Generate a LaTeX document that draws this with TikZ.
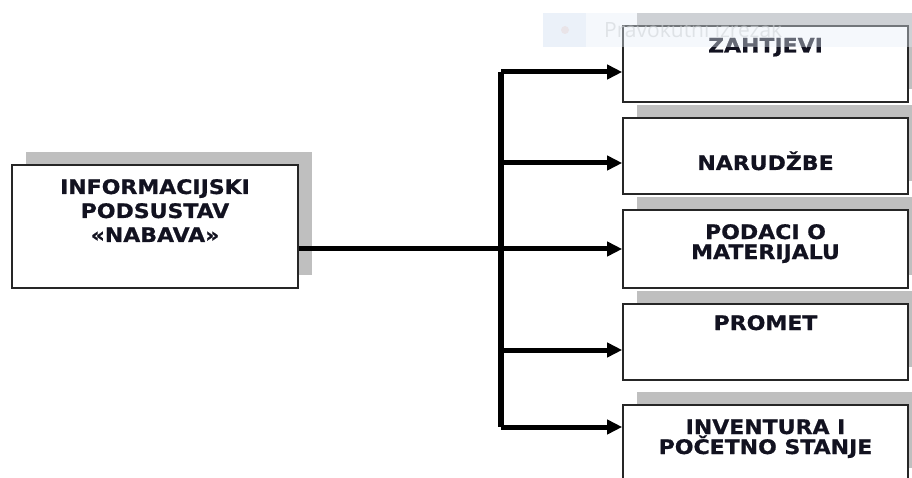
\documentclass[tikz,border=0pt]{standalone}
\usepackage{fontspec}
\usetikzlibrary{arrows.meta}
\newfontfamily\boxfont{DejaVu Sans}[FakeStretch=1.1,FakeBold=0.8]
\newfontfamily\tipfont{Open Sans}
\definecolor{shadowgray}{HTML}{BFBFBF}
\definecolor{inkc}{HTML}{121220}
\definecolor{tipbg}{HTML}{E6EEF8}
\definecolor{tipsq}{HTML}{DCE7F4}
\definecolor{tiptxt}{HTML}{D0D4D8}
\definecolor{tipdot}{HTML}{E8D0D0}
\tikzset{
  boxnode/.style={draw=black!85, line width=1.6pt, fill=white, minimum width=285pt, inner sep=0pt},
  shadownode/.style={fill=shadowgray, draw=none, minimum width=285pt, inner sep=0pt},
  lbl/.style={font=\boxfont\bfseries\fontsize{20}{20}\selectfont, text=inkc, align=center, inner sep=0pt},
  feed/.style={line width=5pt, -{Triangle[length=15pt,width=14pt]}, shorten >=0pt},
  trunk/.style={line width=6.5pt}
}
\begin{document}
\begin{tikzpicture}[x=1pt,y=-1pt]
\useasboundingbox (0,0) rectangle (912,478);
\clip (0,0) rectangle (912,478);
% shadows
\node[shadownode, minimum width=286pt, minimum height=123pt] (ssrc) at (169,213.5) {};
\node[shadownode, minimum height=76pt] (sz) at (779.5,51) {};
\node[shadownode, minimum height=76pt] (sn) at (779.5,143) {};
\node[shadownode, minimum height=78pt] (sp) at (779.5,236) {};
\node[shadownode, minimum height=76pt] (spr) at (779.5,329) {};
\node[shadownode, minimum height=76pt] (sinv) at (779.5,430) {};
% boxes
\node[boxnode, minimum width=286pt, minimum height=123pt] (src) at (155,226.5) {};
\node[boxnode, minimum height=76pt] (z) at (765.5,64) {};
\node[boxnode, minimum height=76pt] (n) at (765.5,156) {};
\node[boxnode, minimum height=78pt] (p) at (765.5,249) {};
\node[boxnode, minimum height=76pt] (pr) at (765.5,342) {};
\node[boxnode, minimum height=76pt] (inv) at (765.5,443) {};
% labels (anchor = baseline of the last line)
\node[lbl, anchor=base] (tsrc) at (155,242) {INFORMACIJSKI\\[4pt]PODSUSTAV\\[4pt]«NABAVA»};
\node[lbl, anchor=base] (tz) at (765.5,52.5) {ZAHTJEVI};
\node[lbl, anchor=base] (tn) at (765.5,170) {NARUDŽBE};
\node[lbl, anchor=base] (tp) at (765.5,259) {PODACI O\\MATERIJALU};
\node[lbl, anchor=base] (tpr) at (765.5,330) {PROMET};
\node[lbl, anchor=base] (tinv) at (765.5,454) {INVENTURA I\\POČETNO STANJE};
% connectors
\coordinate (btop) at (501,72);
\coordinate (bbot) at (501,427);
\coordinate (bn) at (501,163);
\coordinate (bpr) at (501,350);
\draw[trunk] (btop) -- (bbot);
\draw[feed] (src.east |- p.west) -- (p.west);
\draw[feed] (btop) -- (btop -| z.west);
\draw[feed] (bn) -- (bn -| n.west);
\draw[feed] (bpr) -- (bpr -| pr.west);
\draw[feed] (bbot) -- (bbot -| inv.west);
% faint translucent tooltip overlay from the screenshot
\begin{scope}[opacity=0.4]
\fill[tipbg] (543,13) rectangle (912,47);
\fill[tipsq] (543,13) rectangle (586,47);
\fill[tipdot] (565,30) circle (4);
\end{scope}
\node[anchor=west, text=tiptxt, text opacity=0.6, font=\tipfont\fontsize{21}{21}\selectfont, inner sep=0pt] (tip) at (604,29.5) {Pravokutni izrezak};
\end{tikzpicture}
\end{document}
